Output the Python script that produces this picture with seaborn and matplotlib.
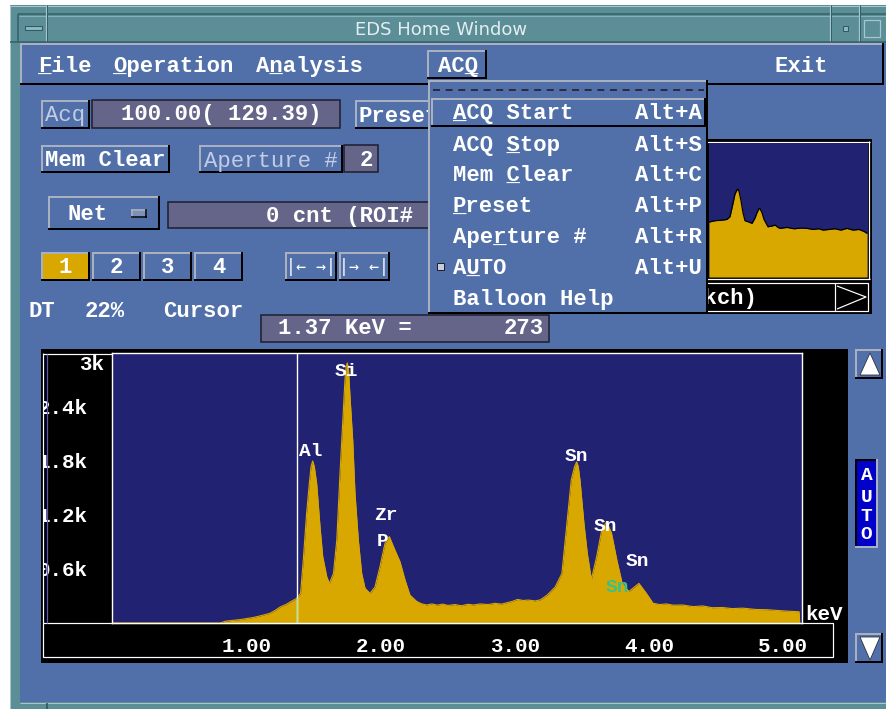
import matplotlib
matplotlib.use("Agg")
import matplotlib.pyplot as plt
from matplotlib.patches import Rectangle, Polygon
import pandas as pd
import seaborn as sns

# ---------------- spectrum data ----------------
energy_kev = [0.00, 0.80, 0.84, 0.90, 0.95, 1.00, 1.05, 1.10, 1.14, 1.17, 1.21, 1.25,
              1.29, 1.33, 1.37, 1.40, 1.42, 1.445, 1.465, 1.478, 1.49, 1.502, 1.52,
              1.545, 1.565, 1.595, 1.615, 1.645, 1.67, 1.694, 1.714, 1.731, 1.740,
              1.749, 1.758, 1.769, 1.789, 1.806, 1.831, 1.856, 1.881, 1.918, 1.955,
              1.993, 2.03, 2.062, 2.104, 2.142, 2.179, 2.216, 2.266, 2.30, 2.34,
              2.38, 2.42, 2.46, 2.50, 2.55, 2.60, 2.65, 2.69, 2.74, 2.80, 2.85,
              2.90, 2.94, 2.98, 3.02, 3.06, 3.10, 3.15, 3.19, 3.24, 3.30, 3.35,
              3.385, 3.42, 3.445, 3.46, 3.472, 3.485, 3.515, 3.54, 3.57, 3.61,
              3.647, 3.684, 3.72, 3.76, 3.80, 3.85, 3.925, 3.98, 4.03, 4.08, 4.13,
              4.18, 4.25, 4.33, 4.40, 4.47, 4.55, 4.62, 4.70, 4.80, 4.88, 4.95,
              5.05, 5.12, 5.125]
counts = [0, 0, 20, 30, 38, 50, 62, 80, 95, 107, 140, 180,
          205, 240, 273, 330, 700, 1220, 1550, 1740, 1800, 1740, 1550,
          1070, 740, 515, 440, 550, 920, 1660, 2220, 2700, 2850,
          2890, 2800, 2510, 2030, 1440, 920, 550, 385, 330, 400,
          630, 885, 960, 810, 680, 480, 310, 240, 215, 200,
          212, 198, 210, 195, 205, 192, 208, 200, 212, 205, 218,
          210, 225, 240, 262, 250, 255, 245, 258, 310, 400, 550,
          1070, 1590, 1740, 1790, 1740, 1590, 1100, 770, 485, 740,
          1030, 1126, 1000, 700, 440, 350, 440, 330, 220, 205, 212,
          198, 200, 182, 190, 170, 172, 160, 165, 150, 148, 140,
          130, 125, 0]

peak_names = ["Al", "Si", "Zr", "P", "Sn", "Sn", "Sn", "Sn"]
peak_name_kev = [1.478, 1.739, 2.037, 2.015, 3.455, 3.676, 3.915, 3.761]
peak_name_counts = [1900, 2800, 1189, 911, 1855, 1067, 681, 397]
peak_name_colors = ["white"] * 7 + ["#3cc08a"]

x_ticks = [1, 2, 3, 4, 5]
x_tick_labels = ["1.00", "2.00", "3.00", "4.00", "5.00"]
y_ticks = [600, 1200, 1800, 2400]
y_tick_labels = ["0.6k", "1.2k", "1.8k", "2.4k"]
y_top_label = "3k"

cursor_kev = 1.37
cursor_counts = 273
live_time = 100.00
real_time = 129.39
dead_time_pct = 22
aperture = 2
roi_counts = 0

# overview strip (channel, relative level)
mini_channel = [0, 6, 14, 18, 21, 24, 26, 28, 29, 30, 32, 34, 36, 40, 43, 46, 48, 50,
                51, 53, 55, 59, 63, 66, 69, 71, 78, 85, 92, 98, 104, 110, 114, 120,
                126, 132, 138, 144, 150, 155, 158]
mini_level = [41, 42, 42.5, 43, 45, 55, 62, 65, 65.5, 64, 57, 48, 42, 41, 40, 44, 48,
              51, 51, 48, 43, 37.5, 38, 38.8, 37, 36.3, 37, 36, 36.5, 36.3, 35.5, 36,
              35, 35.5, 36, 35, 36.3, 35, 35.5, 34, 32.6]

menu_items = ["ACQ Start", "ACQ Stop", "Mem Clear", "Preset", "Aperture #", "AUTO",
              "Balloon Help"]
menu_mnemonic = [0, 4, 4, 0, 3, 1, None]
menu_keys = ["Alt+A", "Alt+S", "Alt+C", "Alt+P", "Alt+R", "Alt+U", ""]

# ---------------- styling ----------------
sns.set_style("white")
MONO = ["Liberation Mono", "DejaVu Sans Mono"]
plt.rcParams["font.family"] = MONO
plt.rcParams["font.weight"] = "bold"

WIN_BLUE = "#5170a9"
TEAL = "#5c8e98"
PLOT_BLUE = "#222272"
YELLOW = "#d8a800"
FIELD = "#65658a"
LIGHT = "#a9b0c0"
CAP = 0.62
UI = 16

W, H = 887, 709
fig = plt.figure(figsize=(W / 100, H / 100), dpi=100)
fig.patch.set_facecolor("white")


def px_axes(x0, y0, x1, y1):
    return fig.add_axes([x0 / W, 1 - y1 / H, (x1 - x0) / W, (y1 - y0) / H])


def screen(ax):
    ax.set_xlim(0, W)
    ax.set_ylim(H, 0)
    ax.axis("off")
    ax.patch.set_alpha(0)


def line(ax, xs, ys, color, w=1.0, **kw):
    ax.plot(xs, ys, color=color, lw=w * 0.72, solid_capstyle="butt", **kw)


def box(ax, x0, y0, x1, y1, fc, ec="none", w=0.0):
    ax.add_patch(Rectangle((x0, y0), x1 - x0, y1 - y0, fc=fc, ec=ec, lw=w * 0.72))


def bevel(ax, x0, y0, x1, y1, fc, raised=True, w=2):
    box(ax, x0, y0, x1, y1, fc)
    hi, lo = (LIGHT, "black") if raised else ("black", LIGHT)
    h = w / 2
    line(ax, [x0 + h, x0 + h], [y1, y0], hi, w)
    line(ax, [x0, x1], [y0 + h, y0 + h], hi, w)
    line(ax, [x1 - h, x1 - h], [y0, y1], lo, w)
    line(ax, [x0, x1], [y1 - h, y1 - h], lo, w)


def field(ax, x0, y0, x1, y1):
    box(ax, x0, y0, x1, y1, FIELD, ec="#1c1c2c", w=1.5)


def txt(ax, x, cy, s, size=UI, color="white", ha="left", weight="bold",
        family=None, under=None, cap=CAP, **kw):
    base = cy + cap * size * 100 / 72 / 2
    opts = dict(fontsize=size, color=color, ha=ha, va="baseline", fontweight=weight)
    if family is not None:
        opts["family"] = family
    opts.update(kw)
    ax.text(x, base, s, **opts)
    if under is not None:
        u = "".join("_" if i == under else " " for i in range(len(s)))
        ax.text(x, base, u, **opts)


bg = px_axes(0, 0, W, H)
screen(bg)

# ---------------- window frame and title bar ----------------
box(bg, 10, 5, W, H, TEAL)
line(bg, [10.5, 10.5], [5, H], "#a4c8ce")
line(bg, [10, W], [5.5, 5.5], "#a4c8ce")
line(bg, [18, W], [14, 14], "#355f68", 1.5)
line(bg, [18, 18], [14, 42], "#355f68", 1.5)
line(bg, [19, W], [15.5, 15.5], "#88b2ba")
for sx in (46, 830, 859):
    line(bg, [sx, sx], [5, 42], "#a4c8ce", 1.2)
    line(bg, [sx + 1.2, sx + 1.2], [5, 42], "#355f68", 1)
line(bg, [10, W], [41.5, 41.5], "#355f68", 1.5)
box(bg, 25, 26, 42, 30, "#8cb6be", ec="#2f5a62", w=1)
box(bg, 843, 26, 848, 31, "#8cb6be", ec="#2f5a62", w=1)
box(bg, 864, 20, 880, 37, TEAL, ec="#a4c8ce", w=1.2)
txt(bg, 441, 28, "EDS Home Window", size=13, color="#e4eef0", ha="center",
    weight="normal", family=["DejaVu Sans"], cap=0.73)

# main client area
box(bg, 20, 42, W, 702, WIN_BLUE)
line(bg, [20, W], [702.5, 702.5], "#a4c8ce")
line(bg, [47, 47], [703, H], "#2c5058", 1.5)

# ---------------- menu bar ----------------
bevel(bg, 20, 43, 884, 85, WIN_BLUE)
txt(bg, 38, 65, "File", under=0)
txt(bg, 113, 65, "Operation", under=0)
txt(bg, 256, 65, "Analysis", under=1)
bevel(bg, 427, 50, 487, 79, WIN_BLUE)
txt(bg, 438, 65, "ACQ", under=2)
txt(bg, 775, 65, "Exit")

# ---------------- control panel ----------------
bevel(bg, 41, 100, 90, 129, WIN_BLUE)
txt(bg, 45, 114, "Acq", color="#c4cce4", weight="normal")
field(bg, 92, 100, 340, 128)
txt(bg, 221, 113, f"{live_time:.2f}( {real_time:.2f})", ha="center")
bevel(bg, 355, 100, 440, 129, WIN_BLUE)
txt(bg, 359, 115, "Preset")

bevel(bg, 41, 145, 170, 173, WIN_BLUE)
txt(bg, 105, 159, "Mem Clear", ha="center")
bevel(bg, 199, 145, 343, 173, WIN_BLUE)
txt(bg, 271, 160, "Aperture #", color="#c4cce4", weight="normal", ha="center")
field(bg, 344, 145, 378, 172)
txt(bg, 366, 159, f"{aperture}", ha="center")

bevel(bg, 48, 196, 160, 230, WIN_BLUE)
txt(bg, 88, 213, "Net", ha="center")
bevel(bg, 131, 209, 147, 218, "#7f90b8", w=1.5)
field(bg, 168, 202, 440, 228)
txt(bg, 266, 215, f"{roi_counts} cnt (ROI#")

for i, (x0, x1) in enumerate([(41, 90), (92, 141), (143, 192), (194, 243)]):
    bevel(bg, x0, 252, x1, 281, YELLOW if i == 0 else WIN_BLUE)
    txt(bg, (x0 + x1) / 2, 266, str(i + 1), ha="center")
bevel(bg, 285, 252, 337, 281, WIN_BLUE)
txt(bg, 311, 266, "|\u2190 \u2192|", ha="center", size=12, weight="normal",
    family=["DejaVu Sans Mono"], cap=0.73)
bevel(bg, 339, 252, 390, 281, WIN_BLUE)
txt(bg, 364, 266, "|\u2192 \u2190|", ha="center", size=12, weight="normal",
    family=["DejaVu Sans Mono"], cap=0.73)

txt(bg, 29, 310, "DT")
txt(bg, 85, 310, f"{dead_time_pct}%")
txt(bg, 163, 310, "Cursor")
field(bg, 261, 315, 549, 342)
txt(bg, 278, 327, f"{cursor_kev:.2f} KeV =")
txt(bg, 544, 327, f"{cursor_counts}", ha="right")

# ---------------- overview strip frame ----------------
box(bg, 430, 139, 872, 314, "black")
line(bg, [430, 870], [141.5, 141.5], "white", 1.2)
line(bg, [869.5, 869.5], [141, 279], "white", 1.2)
line(bg, [430, 870], [278.5, 278.5], "white", 1.2)
box(bg, 430, 283, 868, 311, "black", ec="white", w=1.2)
line(bg, [835, 835], [283, 311], "white", 1.2)
line(bg, [837, 866, 837], [286, 297, 309], "white", 1.2)
txt(bg, 757, 297, "(0.5kch)", ha="right")

# ---------------- spectrum frame ----------------
box(bg, 41, 349, 848, 663, "black")
line(bg, [43, 112], [353.5, 353.5], "white", 1.2)
box(bg, 43.5, 623, 833, 657, "none", ec="white", w=1.2)
txt(bg, 104, 364, y_top_label, ha="right", size=15)
txt(bg, 805, 614, "keV", size=15)

# side buttons
bevel(bg, 855, 349, 883, 379, WIN_BLUE)
bg.add_patch(Polygon([[860, 375], [880, 375], [870, 353]], closed=True, fc="white",
                     ec="#303040", lw=0.6))
bevel(bg, 855, 633, 883, 663, WIN_BLUE)
bg.add_patch(Polygon([[860, 637], [880, 637], [870, 660]], closed=True, fc="white",
                     ec="#303040", lw=0.6))
bevel(bg, 855, 459, 878, 548, "#0000c8", raised=False, w=2)
for ch, cy in zip("AUTO", [474, 496, 515, 533]):
    txt(bg, 866.5, cy, ch, ha="center", size=14)

# ---------------- main spectrum ----------------
spec = pd.DataFrame({"keV": energy_kev, "counts": counts})
ax = px_axes(112, 353, 802, 623)
ax.set_facecolor(PLOT_BLUE)
ax.fill_between(spec["keV"], spec["counts"], 0, color=YELLOW, lw=0)
sns.lineplot(data=spec, x="keV", y="counts", ax=ax, color=YELLOW, lw=0.8,
             legend=False, estimator=None)
ax.axvline(cursor_kev, color="white", lw=1.0)
ax.plot([cursor_kev, cursor_kev], [0, cursor_counts], color="#b4e2b0", lw=1.0)
for name, xk, yc, col in zip(peak_names, peak_name_kev, peak_name_counts,
                             peak_name_colors):
    ax.text(xk, yc, name, color=col, fontsize=14, ha="center", va="center",
            fontweight="bold")
ax.set_xlim(-0.0075, 5.142)
ax.set_ylim(0, 3000)
ax.set_xticks(x_ticks)
ax.set_xticklabels(x_tick_labels)
ax.set_yticks(y_ticks)
ax.set_yticklabels(y_tick_labels)
ax.set_xlabel("")
ax.set_ylabel("")
ax.tick_params(axis="x", colors="white", direction="out", length=5.8, width=1.0,
               pad=4.5, labelsize=15)
ax.tick_params(axis="y", colors="white", direction="out", length=7.9, width=1.0,
               pad=9.4, labelsize=15)
for side in ax.spines.values():
    side.set_color("white")
    side.set_linewidth(1.0)
    side.set_visible(True)
ax.grid(False)

# ---------------- overview strip ----------------
mini = pd.DataFrame({"channel": mini_channel, "level": mini_level})
mx = px_axes(709, 143, 868, 277)
mx.set_facecolor(PLOT_BLUE)
mx.fill_between(mini["channel"], mini["level"], 0, color=YELLOW, lw=0)
sns.lineplot(data=mini, x="channel", y="level", ax=mx, color="black", lw=0.9,
             legend=False, estimator=None)
mx.set_xlim(0, 159)
mx.set_ylim(0, 100)
mx.set_xticks([])
mx.set_yticks([])
mx.set_xlabel("")
mx.set_ylabel("")
for side in mx.spines.values():
    side.set_visible(False)

# ---------------- overlay: left edge of the count scale, pulled-down menu ----------------
fg = px_axes(0, 0, W, H)
screen(fg)
box(fg, 28, 352, 41, 624, WIN_BLUE)
box(fg, 41, 352, 43, 624, "black")
line(fg, [43.5, 43.5], [353, 623], "white", 1.2)
line(fg, [47.5, 47.5], [354, 623], "#5a5ac8", 1.2)

bevel(fg, 428, 80, 708, 314, WIN_BLUE)
fg.plot([433, 704], [90, 90], color="#2a2a40", lw=1.4, dashes=(3.6, 2.9))
bevel(fg, 431, 98, 706, 127, WIN_BLUE)
item_y = [112, 144, 174, 205, 236, 267, 298]
for label, mn, key, cy in zip(menu_items, menu_mnemonic, menu_keys, item_y):
    txt(fg, 453, cy, label, under=mn)
    if key:
        txt(fg, 635, cy, key)
box(fg, 437, 263, 444, 270, "#c8ccd8", ec="#202030", w=1)

fig.savefig("out.png", dpi=100, facecolor=fig.get_facecolor())
